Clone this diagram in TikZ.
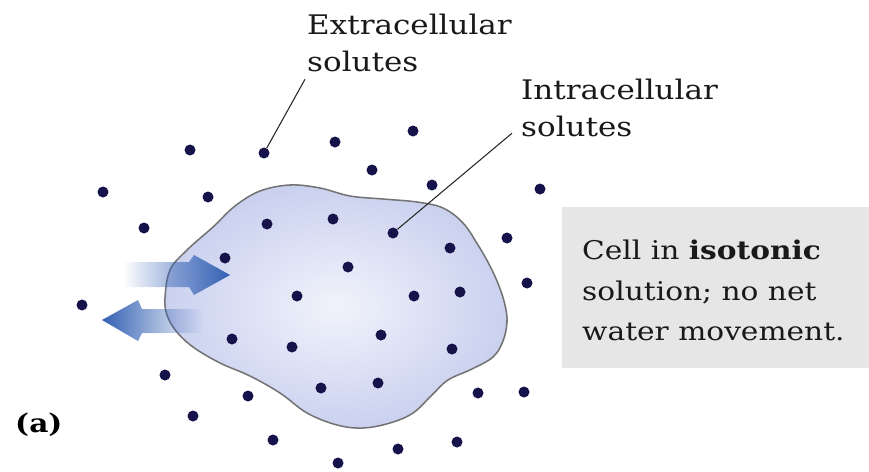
\documentclass[tikz,border=0pt]{standalone}
\usepackage{fontspec}
\setmainfont{DejaVu Serif}[FakeStretch=1.15]
\usepackage{xcolor}
\usepackage{tikz}
\usetikzlibrary{positioning,fadings}

\definecolor{solutecol}{HTML}{15134A}
\definecolor{cellrim}{HTML}{CAD1EF}
\definecolor{cellcore}{HTML}{F1F3FB}
\definecolor{waterblue}{HTML}{3260B3}
\definecolor{notegray}{HTML}{E6E6E6}
\tikzfading[name=fade in east, left color=transparent!100, right color=transparent!0]
\tikzfading[name=fade in west, left color=transparent!0, right color=transparent!100]

\begin{document}
\begin{tikzpicture}[
    x=0.03cm, y=-0.03cm,
    solute/.style={circle, fill=solutecol, inner sep=0pt, minimum size=0.33cm},
    solutelabel/.style={align=left, inner sep=0pt, text=black!90,
                        font=\fontsize{23}{31.5}\selectfont},
    pointer/.style={line width=0.9pt, black!85},
    water/.style={fill=waterblue},
    notebox/.style={fill=notegray, inner sep=0pt, minimum width=9.21cm, minimum height=4.83cm}
]
\useasboundingbox (0,0) rectangle (869,471);

% Cell
\draw[line width=1.3pt, draw=black!55, inner color=cellcore, outer color=cellrim]
  plot[smooth cycle, tension=0.6] coordinates {
    (165,298) (170,270) (187,250) (213,227) (235,206) (260,191) (290,185)
    (320,188) (350,196) (383,199) (417,202) (443,208) (463,223) (478,245)
    (490,266) (499,286) (505,305) (507,322) (503,341) (493,357) (472,369)
    (448,380) (432,395) (413,413) (390,423) (363,428) (337,425) (307,413)
    (280,393) (250,376) (220,363) (193,347) (176,331) (167,315)};

% Water in and out
\path[water, path fading=fade in east]
  (123,262) -- (189,262) -- (194,255) -- (230,275) -- (194,295) -- (189,287) -- (123,287) -- cycle;
\path[water, path fading=fade in west]
  (203,309) -- (142,309) -- (138,300) -- (102,320) -- (138,341) -- (142,333) -- (203,333) -- cycle;

% Solutes outside
\node[solute] (dotE) at (264,153) {};
\foreach \p [count=\i] in {(190,150),(335,142),(413,131),(372,170),(432,185),(540,189),
    (103,192),(208,197),(144,228),(507,238),(527,283),(82,305),(165,375),(248,396),
    (193,416),(478,393),(524,392),(273,440),(398,449),(457,442),(338,463)}
  \node[solute] (out\i) at \p {};

% Solutes inside
\node[solute] (dotI) at (393,233) {};
\foreach \p [count=\i] in {(267,224),(333,219),(225,258),(348,267),(450,248),(297,296),
    (414,296),(460,292),(232,339),(292,347),(381,335),(452,349),(321,388),(378,383)}
  \node[solute] (in\i) at \p {};

% Labels
\node[solutelabel, anchor=north west] (extlabel) at (307,14) {Extracellular\\solutes};
\node[solutelabel, anchor=north west] (intlabel) at (521,79) {Intracellular\\solutes};
\draw[pointer] (extlabel.south west) ++(-2,7) -- (dotE);
\draw[pointer] (intlabel.south west) ++(-9,-4) -- (dotI);

% Note
\node[notebox, anchor=north west] (note) at (562,207) {};
\node[solutelabel, anchor=north west, font=\fontsize{22}{34.5}\selectfont] (notetext) at (582,240)
  {Cell in \textbf{isotonic}\\solution; no net\\water movement.};

\node[anchor=base west, inner sep=0pt, font=\bfseries\fontsize{22}{28}\selectfont] (panel) at (15,432) {(a)};

\end{tikzpicture}
\end{document}
